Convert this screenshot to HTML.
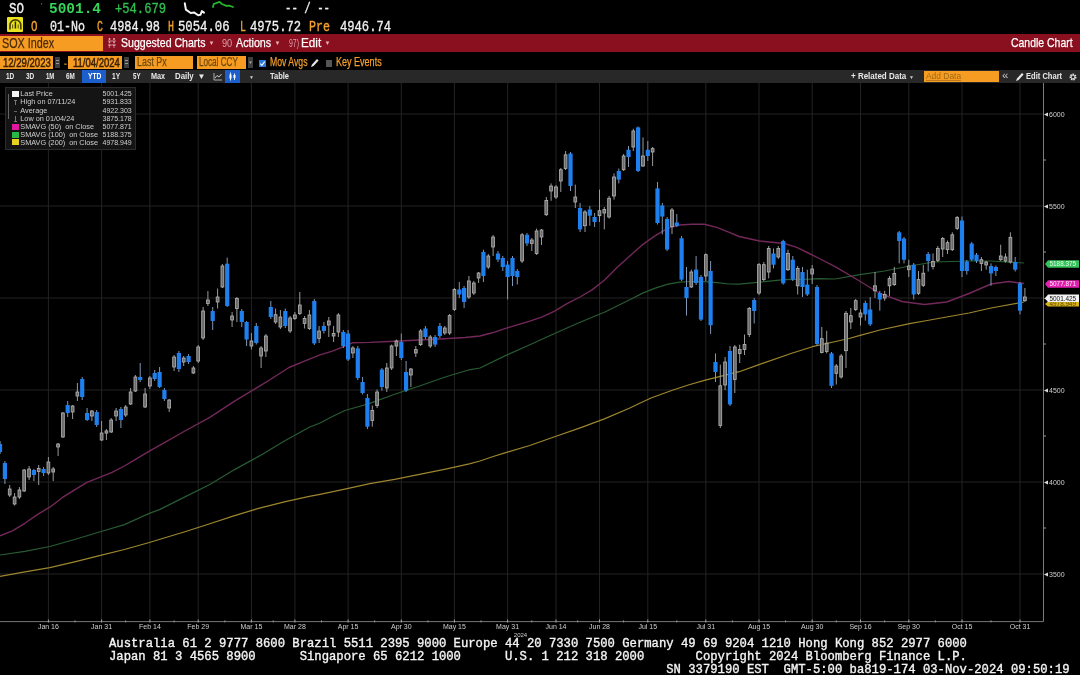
<!DOCTYPE html>
<html><head><meta charset="utf-8"><title>SOX Index Candle Chart</title>
<style>
html,body{margin:0;padding:0;background:#000;}
body{width:1080px;height:675px;overflow:hidden;position:relative;filter:blur(0.35px);font-family:"Liberation Sans",sans-serif;}
.t{position:absolute;white-space:pre;line-height:1;transform-origin:0 50%;}
.bx{position:absolute;}
svg text.ax{font-family:"Liberation Sans",sans-serif;font-size:7px;fill:#cfcfcf;}
svg text.tg{font-family:"Liberation Sans",sans-serif;font-size:6.4px;}
.ft{position:absolute;left:109px;white-space:pre;font-family:"Liberation Mono",monospace;font-size:12.233px;line-height:1;color:#f4f4f4;-webkit-text-stroke:0.35px #f4f4f4;}
.lg{position:absolute;left:4.5px;top:87px;width:131px;height:63px;background:#141414;border:0.5px solid #2c2c2c;box-sizing:border-box;}
.lg div{position:absolute;left:14.8px;right:2.8px;height:8px;font-size:7.3px;line-height:8px;color:#cfcfcf;white-space:pre;}
.lg div b{position:absolute;right:0;font-weight:normal;font-size:7px;}
.lg i{position:absolute;left:6.5px;width:7px;height:6px;}
</style></head><body>
<!-- header row 2 icon -->
<div class="bx" style="left:6.5px;top:17px;width:16.5px;height:14.8px;background:#ece320;border-radius:1px"></div>
<svg class="bx" style="left:6.5px;top:17px" width="17" height="15" viewBox="0 0 17 15"><path d="M3 12.5 V8.2 a5.4 5.4 0 0 1 10.8 0 V12.5" fill="none" stroke="#4a4400" stroke-width="1.7"/><path d="M8.4 4.5 V11.5" stroke="#2a2600" stroke-width="1.5"/><path d="M5.6 7.5 v4 M11.2 7.5 v4" stroke="#6a6200" stroke-width="1.1"/></svg>
<!-- row1 squiggles -->
<svg class="bx" style="left:182px;top:0" width="60" height="18" viewBox="0 0 60 18"><path d="M2.8 3.3 L3.9 9.6 L8.7 13 L12.4 12.6 L16.1 15.2 L18.4 14.8 L19.9 11.1 L22 12.6" fill="none" stroke="#f4f4f4" stroke-width="2" stroke-linejoin="round" stroke-linecap="round"/><path d="M31 7 L31.7 4 L35.4 2.6 L37.6 1.9 L39.9 4 L44.3 5.9 L47.3 5.6 L51 7" fill="none" stroke="#24b52a" stroke-width="1.8" stroke-linejoin="round" stroke-linecap="round"/></svg>
<div class="t" style="left:41px;top:2px;font-size:8px;color:#999">'</div>
<!-- red bar -->
<div class="bx" style="left:0;top:34.4px;width:1080px;height:17.8px;background:#8a1020"></div>
<div class="bx" style="left:0;top:35.8px;width:102.5px;height:14.8px;background:#f69c22"></div>
<svg class="bx" style="left:107px;top:37px" width="10" height="12" viewBox="0 0 10 12"><path d="M2.5 1v10M7 1v10" stroke="#e0a8b0" stroke-width="1.5" stroke-dasharray="2 1.2"/><path d="M1 4h8M1 8h8" stroke="#e0a8b0" stroke-width="0.8"/></svg>
<div class="t" style="left:208.5px;top:40px;font-size:6px;color:#e8b0b8">&#9660;</div>
<div class="t" style="left:274.5px;top:40px;font-size:6px;color:#e8b0b8">&#9660;</div>
<div class="t" style="left:324.5px;top:40px;font-size:6px;color:#e8b0b8">&#9660;</div>
<!-- row4 -->
<div class="bx" style="left:0;top:56px;width:53px;height:12.5px;background:#f69c22"></div>
<div class="bx" style="left:54.8px;top:56.6px;width:5.2px;height:11.2px;background:#3e3e3e"></div><div class="bx" style="left:55.8px;top:60.2px;width:3.2px;height:1.2px;background:#9a9a9a"></div><div class="bx" style="left:55.8px;top:63.2px;width:3.2px;height:1.2px;background:#9a9a9a"></div>
<div class="bx" style="left:68.3px;top:56px;width:53.7px;height:12.5px;background:#f69c22"></div>
<div class="bx" style="left:123.8px;top:56.6px;width:5.2px;height:11.2px;background:#3e3e3e"></div><div class="bx" style="left:124.8px;top:60.2px;width:3.2px;height:1.2px;background:#9a9a9a"></div><div class="bx" style="left:124.8px;top:63.2px;width:3.2px;height:1.2px;background:#9a9a9a"></div>
<div class="bx" style="left:134.5px;top:56px;width:58px;height:12.5px;background:#f69c22"></div>
<div class="bx" style="left:197px;top:56px;width:49px;height:12.5px;background:#f69c22"></div>
<div class="bx" style="left:247.5px;top:56.6px;width:5.8px;height:11.2px;background:#3e3e3e"></div><div class="t" style="left:248.3px;top:60.5px;font-size:4.5px;color:#aaa">&#9660;</div>
<div class="bx" style="left:259px;top:59.5px;width:6.5px;height:7px;background:#2b78e0"></div>
<svg class="bx" style="left:259px;top:59.5px" width="7" height="7" viewBox="0 0 7 7"><path d="M1.3 3.6 l1.6 1.7 l2.8 -3.6" fill="none" stroke="#fff" stroke-width="1.1"/></svg>
<svg class="bx" style="left:309.5px;top:58px" width="9" height="10" viewBox="0 0 9 10"><path d="M1 9 l1 -2.6 l5 -5.4 l1.6 1.6 l-5 5.4 z" fill="#e8e8e8"/></svg>
<div class="bx" style="left:325.5px;top:59.5px;width:6px;height:7px;background:#555"></div>
<!-- toolbar -->
<div class="bx" style="left:0;top:70px;width:1080px;height:12.9px;background:#282828"></div>
<div class="bx" style="left:81.8px;top:70.3px;width:24.6px;height:12.6px;background:#1b5ecc"></div>
<div class="bx" style="left:225px;top:70.3px;width:15px;height:12.6px;background:#1b5ecc"></div>
<div class="t" style="left:197.5px;top:72.5px;font-size:8px;color:#e8e8e8">&#9660;</div>
<svg class="bx" style="left:213px;top:72px" width="10" height="9" viewBox="0 0 10 9"><path d="M1 1v7h8" fill="none" stroke="#bbb" stroke-width="0.9"/><path d="M2 6l2-2.5 2 1.5 2.5-3" fill="none" stroke="#ddd" stroke-width="0.9"/></svg>
<svg class="bx" style="left:227.5px;top:72px" width="10" height="9" viewBox="0 0 10 9"><path d="M2.5 0.5v8M6.5 1.5v6.5" stroke="#fff" stroke-width="0.9"/><rect x="1.5" y="2.5" width="2" height="4" fill="#fff"/><rect x="5.5" y="3" width="2" height="3" fill="#fff"/></svg>
<div class="t" style="left:249px;top:74.5px;font-size:5px;color:#ccc">&#9660;</div>
<div class="t" style="left:909px;top:74.5px;font-size:5px;color:#ccc">&#9660;</div>
<div class="bx" style="left:924px;top:70.5px;width:75px;height:11.5px;background:#f69c22"></div>
<div class="bx" style="left:926px;top:80px;width:35px;height:0.8px;background:#b87a1a"></div>
<div class="t" style="left:1002px;top:70.3px;font-size:11.5px;color:#c8c8c8">&#171;</div>
<svg class="bx" style="left:1015px;top:71.5px" width="9" height="10" viewBox="0 0 9 10"><path d="M1 9 l1 -2.6 l5 -5.4 l1.6 1.6 l-5 5.4 z" fill="#e8e8e8"/></svg>
<svg class="bx" style="left:1068px;top:71.5px" width="10" height="10" viewBox="0 0 10 10"><circle cx="5" cy="5" r="2.6" fill="none" stroke="#e0e0e0" stroke-width="1.8" stroke-dasharray="1.4 0.9"/><circle cx="5" cy="5" r="2" fill="none" stroke="#e0e0e0" stroke-width="1"/></svg>
<div class="t" id="t0" style="left:9.00px;top:2.20px;font-size:15px;font-family:'Liberation Mono', monospace;font-weight:normal;color:#f0f0f0;transform:scaleX(0.8333);-webkit-text-stroke:0.35px #f0f0f0">SO</div>
<div class="t" id="t1" style="left:49.00px;top:2.20px;font-size:15px;font-family:'Liberation Mono', monospace;font-weight:bold;color:#35d45a;transform:scaleX(0.9630)">5001.4</div>
<div class="t" id="t2" style="left:115.00px;top:2.20px;font-size:15px;font-family:'Liberation Mono', monospace;font-weight:normal;color:#2fbf4f;transform:scaleX(0.8095);-webkit-text-stroke:0.35px #2fbf4f">+54.679</div>
<div class="t" id="t3" style="left:285.00px;top:2.20px;font-size:15px;font-family:'Liberation Mono', monospace;font-weight:normal;color:#f0f0f0;transform:scaleX(0.7143);-webkit-text-stroke:0.35px #f0f0f0">-- / --</div>
<div class="t" id="t4" style="left:31.00px;top:19.50px;font-size:15px;font-family:'Liberation Mono', monospace;font-weight:normal;color:#f5a02c;transform:scaleX(0.7222);-webkit-text-stroke:0.35px #f5a02c">O</div>
<div class="t" id="t5" style="left:50.00px;top:19.50px;font-size:15px;font-family:'Liberation Mono', monospace;font-weight:normal;color:#f0f0f0;transform:scaleX(0.7778);-webkit-text-stroke:0.35px #f0f0f0">01-No</div>
<div class="t" id="t6" style="left:97.00px;top:19.50px;font-size:15px;font-family:'Liberation Mono', monospace;font-weight:normal;color:#f5a02c;transform:scaleX(0.6667);-webkit-text-stroke:0.35px #f5a02c">C</div>
<div class="t" id="t7" style="left:110.00px;top:19.50px;font-size:15px;font-family:'Liberation Mono', monospace;font-weight:normal;color:#f0f0f0;transform:scaleX(0.7937);-webkit-text-stroke:0.35px #f0f0f0">4984.98</div>
<div class="t" id="t8" style="left:168.00px;top:19.50px;font-size:15px;font-family:'Liberation Mono', monospace;font-weight:normal;color:#f5a02c;transform:scaleX(0.6667);-webkit-text-stroke:0.35px #f5a02c">H</div>
<div class="t" id="t9" style="left:178.00px;top:19.50px;font-size:15px;font-family:'Liberation Mono', monospace;font-weight:normal;color:#f0f0f0;transform:scaleX(0.8175);-webkit-text-stroke:0.35px #f0f0f0">5054.06</div>
<div class="t" id="t10" style="left:240.00px;top:19.50px;font-size:15px;font-family:'Liberation Mono', monospace;font-weight:normal;color:#f5a02c;transform:scaleX(0.6667);-webkit-text-stroke:0.35px #f5a02c">L</div>
<div class="t" id="t11" style="left:250.00px;top:19.50px;font-size:15px;font-family:'Liberation Mono', monospace;font-weight:normal;color:#f0f0f0;transform:scaleX(0.8095);-webkit-text-stroke:0.35px #f0f0f0">4975.72</div>
<div class="t" id="t12" style="left:309.00px;top:19.50px;font-size:15px;font-family:'Liberation Mono', monospace;font-weight:normal;color:#f5a02c;transform:scaleX(0.7778);-webkit-text-stroke:0.35px #f5a02c">Pre</div>
<div class="t" id="t13" style="left:340.00px;top:19.50px;font-size:15px;font-family:'Liberation Mono', monospace;font-weight:normal;color:#f0f0f0;transform:scaleX(0.8095);-webkit-text-stroke:0.35px #f0f0f0">4946.74</div>
<div class="t" id="t14" style="left:1.50px;top:36.05px;font-size:14.5px;font-family:'Liberation Sans', sans-serif;font-weight:normal;color:#4a2a08;transform:scaleX(0.7429);-webkit-text-stroke:0.25px #4a2a08">SOX Index</div>
<div class="t" id="t15" style="left:120.50px;top:35.85px;font-size:13.5px;font-family:'Liberation Sans', sans-serif;font-weight:normal;color:#fff;transform:scaleX(0.7824);-webkit-text-stroke:0.25px #fff">Suggested Charts</div>
<div class="t" id="t16" style="left:235.50px;top:35.85px;font-size:13.5px;font-family:'Liberation Sans', sans-serif;font-weight:normal;color:#fff;transform:scaleX(0.7955);-webkit-text-stroke:0.25px #fff">Actions</div>
<div class="t" id="t17" style="left:300.50px;top:35.85px;font-size:13.5px;font-family:'Liberation Sans', sans-serif;font-weight:normal;color:#fff;transform:scaleX(0.8696);-webkit-text-stroke:0.25px #fff">Edit</div>
<div class="t" id="t18" style="left:222.00px;top:37.50px;font-size:11px;font-family:'Liberation Sans', sans-serif;font-weight:normal;color:#d9a0a8;transform:scaleX(0.8333)">90</div>
<div class="t" id="t19" style="left:289.00px;top:37.50px;font-size:11px;font-family:'Liberation Sans', sans-serif;font-weight:normal;color:#d9a0a8;transform:scaleX(0.6250)">97)</div>
<div class="t" id="t20" style="left:1011.00px;top:35.85px;font-size:13.5px;font-family:'Liberation Sans', sans-serif;font-weight:normal;color:#fff;transform:scaleX(0.7750);-webkit-text-stroke:0.25px #fff">Candle Chart</div>
<div class="t" id="t21" style="left:3.10px;top:57.25px;font-size:12.5px;font-family:'Liberation Sans', sans-serif;font-weight:normal;color:#3a2000;transform:scaleX(0.7635);-webkit-text-stroke:0.5px #3a2000">12/29/2023</div>
<div class="t" id="t22" style="left:64.30px;top:57.95px;font-size:12.5px;font-family:'Liberation Sans', sans-serif;font-weight:bold;color:#b87a20;transform:scaleX(0.6750)">-</div>
<div class="t" id="t23" style="left:72.70px;top:57.25px;font-size:12.5px;font-family:'Liberation Sans', sans-serif;font-weight:normal;color:#3a2000;transform:scaleX(0.7597);-webkit-text-stroke:0.5px #3a2000">11/04/2024</div>
<div class="t" id="t24" style="left:137.00px;top:56.35px;font-size:12.5px;font-family:'Liberation Sans', sans-serif;font-weight:normal;color:#6e4808;transform:scaleX(0.7143);-webkit-text-stroke:0.25px #6e4808">Last Px</div>
<div class="t" id="t25" style="left:199.00px;top:56.35px;font-size:12.5px;font-family:'Liberation Sans', sans-serif;font-weight:normal;color:#6e4808;transform:scaleX(0.6500);-webkit-text-stroke:0.25px #6e4808">Local CCY</div>
<div class="t" id="t26" style="left:270.00px;top:56.35px;font-size:12.5px;font-family:'Liberation Sans', sans-serif;font-weight:normal;color:#f5a02c;transform:scaleX(0.6944);-webkit-text-stroke:0.25px #f5a02c">Mov Avgs</div>
<div class="t" id="t27" style="left:335.50px;top:56.35px;font-size:12.5px;font-family:'Liberation Sans', sans-serif;font-weight:normal;color:#f5a02c;transform:scaleX(0.7222);-webkit-text-stroke:0.25px #f5a02c">Key Events</div>
<div class="t" id="t28" style="left:5.50px;top:71.35px;font-size:9.9px;font-family:'Liberation Sans', sans-serif;font-weight:bold;color:#e8e8e8;transform:scaleX(0.6538)">1D</div>
<div class="t" id="t29" style="left:25.50px;top:71.35px;font-size:9.9px;font-family:'Liberation Sans', sans-serif;font-weight:bold;color:#e8e8e8;transform:scaleX(0.6538)">3D</div>
<div class="t" id="t30" style="left:46.00px;top:71.35px;font-size:9.9px;font-family:'Liberation Sans', sans-serif;font-weight:bold;color:#e8e8e8;transform:scaleX(0.6071)">1M</div>
<div class="t" id="t31" style="left:66.00px;top:71.35px;font-size:9.9px;font-family:'Liberation Sans', sans-serif;font-weight:bold;color:#e8e8e8;transform:scaleX(0.6429)">6M</div>
<div class="t" id="t32" style="left:87.50px;top:71.35px;font-size:9.9px;font-family:'Liberation Sans', sans-serif;font-weight:bold;color:#fff;transform:scaleX(0.6750)">YTD</div>
<div class="t" id="t33" style="left:112.00px;top:71.35px;font-size:9.9px;font-family:'Liberation Sans', sans-serif;font-weight:bold;color:#e8e8e8;transform:scaleX(0.6667)">1Y</div>
<div class="t" id="t34" style="left:132.50px;top:71.35px;font-size:9.9px;font-family:'Liberation Sans', sans-serif;font-weight:bold;color:#e8e8e8;transform:scaleX(0.6250)">5Y</div>
<div class="t" id="t35" style="left:151.00px;top:71.35px;font-size:9.9px;font-family:'Liberation Sans', sans-serif;font-weight:bold;color:#e8e8e8;transform:scaleX(0.7368)">Max</div>
<div class="t" id="t36" style="left:175.00px;top:71.35px;font-size:9.9px;font-family:'Liberation Sans', sans-serif;font-weight:bold;color:#e8e8e8;transform:scaleX(0.7917)">Daily</div>
<div class="t" id="t37" style="left:270.00px;top:71.35px;font-size:9.9px;font-family:'Liberation Sans', sans-serif;font-weight:bold;color:#e8e8e8;transform:scaleX(0.7600)">Table</div>
<div class="t" id="t38" style="left:851.00px;top:71.35px;font-size:9.9px;font-family:'Liberation Sans', sans-serif;font-weight:bold;color:#e8e8e8;transform:scaleX(0.8088)">+ Related Data</div>
<div class="t" id="t39" style="left:926.00px;top:71.35px;font-size:9.9px;font-family:'Liberation Sans', sans-serif;font-weight:normal;color:#a06a14;transform:scaleX(0.8537)">Add Data</div>
<div class="t" id="t40" style="left:1026.00px;top:71.35px;font-size:9.9px;font-family:'Liberation Sans', sans-serif;font-weight:bold;color:#e8e8e8;transform:scaleX(0.7660)">Edit Chart</div>
<!-- chart -->
<svg class="bx" style="left:0;top:0;filter:blur(0.45px)" width="1080" height="675" viewBox="0 0 1080 675">
<line x1="48.4" y1="83" x2="48.4" y2="620.5" stroke="#232323" stroke-width="1"/>
<line x1="101.6" y1="83" x2="101.6" y2="620.5" stroke="#232323" stroke-width="1"/>
<line x1="149.9" y1="83" x2="149.9" y2="620.5" stroke="#232323" stroke-width="1"/>
<line x1="198.2" y1="83" x2="198.2" y2="620.5" stroke="#232323" stroke-width="1"/>
<line x1="251.4" y1="83" x2="251.4" y2="620.5" stroke="#232323" stroke-width="1"/>
<line x1="294.9" y1="83" x2="294.9" y2="620.5" stroke="#232323" stroke-width="1"/>
<line x1="348.1" y1="83" x2="348.1" y2="620.5" stroke="#232323" stroke-width="1"/>
<line x1="401.3" y1="83" x2="401.3" y2="620.5" stroke="#232323" stroke-width="1"/>
<line x1="454.4" y1="83" x2="454.4" y2="620.5" stroke="#232323" stroke-width="1"/>
<line x1="507.6" y1="83" x2="507.6" y2="620.5" stroke="#232323" stroke-width="1"/>
<line x1="556.0" y1="83" x2="556.0" y2="620.5" stroke="#232323" stroke-width="1"/>
<line x1="599.5" y1="83" x2="599.5" y2="620.5" stroke="#232323" stroke-width="1"/>
<line x1="647.8" y1="83" x2="647.8" y2="620.5" stroke="#232323" stroke-width="1"/>
<line x1="705.8" y1="83" x2="705.8" y2="620.5" stroke="#232323" stroke-width="1"/>
<line x1="759.0" y1="83" x2="759.0" y2="620.5" stroke="#232323" stroke-width="1"/>
<line x1="812.2" y1="83" x2="812.2" y2="620.5" stroke="#232323" stroke-width="1"/>
<line x1="860.5" y1="83" x2="860.5" y2="620.5" stroke="#232323" stroke-width="1"/>
<line x1="908.8" y1="83" x2="908.8" y2="620.5" stroke="#232323" stroke-width="1"/>
<line x1="962.0" y1="83" x2="962.0" y2="620.5" stroke="#232323" stroke-width="1"/>
<line x1="1020.0" y1="83" x2="1020.0" y2="620.5" stroke="#232323" stroke-width="1"/>
<line x1="0" y1="114" x2="1043" y2="114" stroke="#232323" stroke-width="1"/>
<line x1="0" y1="206" x2="1043" y2="206" stroke="#232323" stroke-width="1"/>
<line x1="0" y1="298" x2="1043" y2="298" stroke="#232323" stroke-width="1"/>
<line x1="0" y1="390" x2="1043" y2="390" stroke="#232323" stroke-width="1"/>
<line x1="0" y1="482" x2="1043" y2="482" stroke="#232323" stroke-width="1"/>
<line x1="0" y1="574" x2="1043" y2="574" stroke="#232323" stroke-width="1"/>
<polyline fill="none" stroke="#9c862e" stroke-width="1.2" stroke-opacity="1" stroke-linejoin="round" points="0.0,576.3 24.9,571.8 49.8,567.6 74.6,561.9 99.5,555.7 124.4,549.5 149.3,542.5 160.0,539.3 184.9,531.7 209.8,523.8 234.6,515.6 259.5,508.1 284.4,501.9 309.3,496.4 320.0,494.4 344.9,489.2 369.8,483.7 394.6,479.3 419.5,474.3 444.4,469.3 469.3,463.8 480.0,461.0 492.4,456.7 504.9,452.9 529.8,445.5 554.6,436.8 579.5,428.1 604.4,418.9 629.3,408.2 639.2,403.5 651.0,398.0 673.0,390.0 690.0,384.5 704.4,380.4 729.3,374.2 739.2,371.7 759.0,364.6 791.0,353.5 812.4,346.7 835.6,341.5 849.0,338.5 861.0,335.2 880.0,330.0 909.5,323.6 924.4,321.0 946.7,317.0 969.0,313.0 991.0,308.0 1024.0,302.0"/>
<polyline fill="none" stroke="#285c32" stroke-width="1.2" stroke-opacity="1" stroke-linejoin="round" points="0.0,555.0 24.9,551.4 49.8,546.5 74.6,539.5 99.5,532.0 124.4,524.6 149.3,513.4 160.0,509.4 184.9,496.9 209.8,484.5 234.6,469.6 259.5,455.9 284.4,441.0 309.3,427.3 320.0,423.0 332.4,416.5 344.9,410.5 357.3,407.0 369.8,403.4 394.6,394.2 419.5,386.0 444.4,377.3 469.3,369.8 480.0,368.0 504.9,355.9 529.8,344.7 554.6,333.5 579.5,322.5 604.9,312.0 629.8,299.8 642.2,293.4 654.6,288.4 667.0,284.4 679.5,282.2 692.0,281.5 704.4,281.7 716.8,282.7 729.3,284.0 739.2,284.2 759.5,282.1 784.4,279.6 809.3,279.1 819.2,278.6 835.0,279.0 860.0,274.6 884.6,271.0 909.5,266.0 934.0,262.0 969.0,261.0 991.0,261.0 1024.0,263.0"/>
<polyline fill="none" stroke="#73285a" stroke-width="1.4" stroke-opacity="1" stroke-linejoin="round" points="0.0,535.8 12.4,530.8 24.9,523.3 37.3,514.6 49.8,507.2 62.2,497.7 74.6,489.8 87.0,482.3 99.5,477.3 112.0,472.3 124.4,466.0 136.8,458.7 149.3,451.2 160.0,445.2 184.9,431.0 209.8,417.3 234.6,401.1 259.5,386.2 269.5,380.0 289.0,367.5 305.0,360.8 320.0,354.9 332.4,351.1 344.9,346.2 352.3,342.8 369.8,342.4 394.6,341.2 419.5,340.0 444.4,338.7 465.0,337.5 480.0,336.0 492.4,332.8 504.9,328.6 517.3,324.8 529.8,321.1 542.2,316.9 554.6,311.1 567.0,303.7 580.0,297.0 592.4,289.6 604.9,279.7 617.3,267.2 629.8,256.0 642.2,244.9 654.6,236.1 667.0,228.7 679.5,225.0 692.0,224.3 704.4,224.3 716.8,227.4 729.3,232.4 739.2,236.5 759.5,241.0 784.4,243.5 796.8,247.3 809.3,253.5 819.2,258.5 835.6,266.8 857.8,280.0 880.0,293.5 902.0,301.5 924.4,304.5 946.7,302.0 969.0,293.5 991.0,284.0 1009.0,281.5 1024.0,283.5"/>
<line x1="0.1" y1="441.0" x2="0.1" y2="454.0" stroke="#7f96b4" stroke-width="1"/>
<rect x="-2.1" y="444.0" width="4.2" height="8.0" fill="#1e80ee"/>
<line x1="4.9" y1="461.0" x2="4.9" y2="484.0" stroke="#7f96b4" stroke-width="1"/>
<rect x="2.8" y="463.0" width="4.2" height="16.0" fill="#1e80ee"/>
<line x1="9.7" y1="485.0" x2="9.7" y2="497.0" stroke="#9a9a9a" stroke-width="1"/>
<rect x="8.3" y="489.0" width="2.8" height="6.0" fill="#6a6a6a" stroke="#b4b4b4" stroke-width="0.8"/>
<line x1="14.6" y1="493.0" x2="14.6" y2="505.5" stroke="#9a9a9a" stroke-width="1"/>
<rect x="13.2" y="497.0" width="2.8" height="7.0" fill="#6a6a6a" stroke="#b4b4b4" stroke-width="0.8"/>
<line x1="19.4" y1="487.0" x2="19.4" y2="499.0" stroke="#9a9a9a" stroke-width="1"/>
<rect x="18.0" y="490.0" width="2.8" height="7.0" fill="#6a6a6a" stroke="#b4b4b4" stroke-width="0.8"/>
<line x1="24.2" y1="469.0" x2="24.2" y2="492.0" stroke="#9a9a9a" stroke-width="1"/>
<rect x="22.8" y="470.0" width="2.8" height="21.0" fill="#6a6a6a" stroke="#b4b4b4" stroke-width="0.8"/>
<line x1="29.1" y1="466.0" x2="29.1" y2="480.0" stroke="#9a9a9a" stroke-width="1"/>
<rect x="27.7" y="469.0" width="2.8" height="8.0" fill="#6a6a6a" stroke="#b4b4b4" stroke-width="0.8"/>
<line x1="33.9" y1="469.0" x2="33.9" y2="481.0" stroke="#7f96b4" stroke-width="1"/>
<rect x="31.8" y="470.0" width="4.2" height="5.0" fill="#1e80ee"/>
<line x1="38.7" y1="465.0" x2="38.7" y2="485.0" stroke="#9a9a9a" stroke-width="1"/>
<rect x="37.3" y="468.5" width="2.8" height="3.0" fill="#6a6a6a" stroke="#b4b4b4" stroke-width="0.8"/>
<line x1="43.6" y1="467.0" x2="43.6" y2="476.0" stroke="#7f96b4" stroke-width="1"/>
<rect x="41.5" y="469.0" width="4.2" height="4.0" fill="#1e80ee"/>
<line x1="48.4" y1="457.0" x2="48.4" y2="475.0" stroke="#9a9a9a" stroke-width="1"/>
<rect x="47.0" y="462.0" width="2.8" height="11.0" fill="#6a6a6a" stroke="#b4b4b4" stroke-width="0.8"/>
<line x1="53.2" y1="467.0" x2="53.2" y2="481.0" stroke="#9a9a9a" stroke-width="1"/>
<rect x="51.8" y="469.0" width="2.8" height="3.0" fill="#6a6a6a" stroke="#b4b4b4" stroke-width="0.8"/>
<line x1="58.1" y1="443.0" x2="58.1" y2="456.0" stroke="#9a9a9a" stroke-width="1"/>
<rect x="56.7" y="444.0" width="2.8" height="3.0" fill="#6a6a6a" stroke="#b4b4b4" stroke-width="0.8"/>
<line x1="62.9" y1="412.0" x2="62.9" y2="438.0" stroke="#9a9a9a" stroke-width="1"/>
<rect x="61.5" y="413.0" width="2.8" height="24.0" fill="#6a6a6a" stroke="#b4b4b4" stroke-width="0.8"/>
<line x1="67.7" y1="401.0" x2="67.7" y2="417.0" stroke="#7f96b4" stroke-width="1"/>
<rect x="65.6" y="405.0" width="4.2" height="8.0" fill="#1e80ee"/>
<line x1="72.6" y1="405.0" x2="72.6" y2="419.0" stroke="#9a9a9a" stroke-width="1"/>
<rect x="71.2" y="406.0" width="2.8" height="6.0" fill="#6a6a6a" stroke="#b4b4b4" stroke-width="0.8"/>
<line x1="77.4" y1="383.0" x2="77.4" y2="401.0" stroke="#9a9a9a" stroke-width="1"/>
<rect x="76.0" y="392.0" width="2.8" height="4.0" fill="#6a6a6a" stroke="#b4b4b4" stroke-width="0.8"/>
<line x1="82.2" y1="377.0" x2="82.2" y2="400.0" stroke="#7f96b4" stroke-width="1"/>
<rect x="80.1" y="379.0" width="4.2" height="18.0" fill="#1e80ee"/>
<line x1="87.1" y1="408.0" x2="87.1" y2="421.0" stroke="#7f96b4" stroke-width="1"/>
<rect x="85.0" y="413.0" width="4.2" height="7.0" fill="#1e80ee"/>
<line x1="91.9" y1="410.0" x2="91.9" y2="421.0" stroke="#9a9a9a" stroke-width="1"/>
<rect x="90.5" y="411.0" width="2.8" height="5.0" fill="#6a6a6a" stroke="#b4b4b4" stroke-width="0.8"/>
<line x1="96.7" y1="410.0" x2="96.7" y2="427.0" stroke="#7f96b4" stroke-width="1"/>
<rect x="94.6" y="412.0" width="4.2" height="13.0" fill="#1e80ee"/>
<line x1="101.6" y1="421.0" x2="101.6" y2="441.0" stroke="#9a9a9a" stroke-width="1"/>
<rect x="100.2" y="433.0" width="2.8" height="7.0" fill="#6a6a6a" stroke="#b4b4b4" stroke-width="0.8"/>
<line x1="106.4" y1="429.0" x2="106.4" y2="440.0" stroke="#9a9a9a" stroke-width="1"/>
<rect x="105.0" y="430.9" width="2.8" height="2.2" fill="#6a6a6a" stroke="#b4b4b4" stroke-width="0.8"/>
<line x1="111.2" y1="418.0" x2="111.2" y2="433.0" stroke="#9a9a9a" stroke-width="1"/>
<rect x="109.8" y="420.0" width="2.8" height="12.0" fill="#6a6a6a" stroke="#b4b4b4" stroke-width="0.8"/>
<line x1="116.1" y1="408.0" x2="116.1" y2="421.0" stroke="#9a9a9a" stroke-width="1"/>
<rect x="114.7" y="411.0" width="2.8" height="5.0" fill="#6a6a6a" stroke="#b4b4b4" stroke-width="0.8"/>
<line x1="120.9" y1="407.0" x2="120.9" y2="428.0" stroke="#7f96b4" stroke-width="1"/>
<rect x="118.8" y="409.0" width="4.2" height="11.0" fill="#1e80ee"/>
<line x1="125.7" y1="405.0" x2="125.7" y2="417.0" stroke="#9a9a9a" stroke-width="1"/>
<rect x="124.3" y="407.0" width="2.8" height="8.0" fill="#6a6a6a" stroke="#b4b4b4" stroke-width="0.8"/>
<line x1="130.6" y1="388.0" x2="130.6" y2="405.0" stroke="#9a9a9a" stroke-width="1"/>
<rect x="129.2" y="392.0" width="2.8" height="12.0" fill="#6a6a6a" stroke="#b4b4b4" stroke-width="0.8"/>
<line x1="135.4" y1="375.0" x2="135.4" y2="392.0" stroke="#9a9a9a" stroke-width="1"/>
<rect x="134.0" y="377.0" width="2.8" height="14.0" fill="#6a6a6a" stroke="#b4b4b4" stroke-width="0.8"/>
<line x1="140.2" y1="363.0" x2="140.2" y2="382.0" stroke="#7f96b4" stroke-width="1"/>
<rect x="138.1" y="377.0" width="4.2" height="3.0" fill="#1e80ee"/>
<line x1="145.1" y1="388.0" x2="145.1" y2="408.0" stroke="#9a9a9a" stroke-width="1"/>
<rect x="143.7" y="394.0" width="2.8" height="13.0" fill="#6a6a6a" stroke="#b4b4b4" stroke-width="0.8"/>
<line x1="149.9" y1="376.0" x2="149.9" y2="389.0" stroke="#9a9a9a" stroke-width="1"/>
<rect x="148.5" y="378.0" width="2.8" height="8.0" fill="#6a6a6a" stroke="#b4b4b4" stroke-width="0.8"/>
<line x1="154.7" y1="370.0" x2="154.7" y2="381.0" stroke="#7f96b4" stroke-width="1"/>
<rect x="152.6" y="373.0" width="4.2" height="6.0" fill="#1e80ee"/>
<line x1="159.6" y1="367.0" x2="159.6" y2="388.0" stroke="#7f96b4" stroke-width="1"/>
<rect x="157.5" y="372.0" width="4.2" height="15.0" fill="#1e80ee"/>
<line x1="164.4" y1="388.0" x2="164.4" y2="401.0" stroke="#7f96b4" stroke-width="1"/>
<rect x="162.3" y="390.0" width="4.2" height="9.0" fill="#1e80ee"/>
<line x1="169.2" y1="399.0" x2="169.2" y2="412.0" stroke="#9a9a9a" stroke-width="1"/>
<rect x="167.8" y="400.0" width="2.8" height="8.0" fill="#6a6a6a" stroke="#b4b4b4" stroke-width="0.8"/>
<line x1="174.1" y1="355.0" x2="174.1" y2="371.0" stroke="#9a9a9a" stroke-width="1"/>
<rect x="172.7" y="357.0" width="2.8" height="10.0" fill="#6a6a6a" stroke="#b4b4b4" stroke-width="0.8"/>
<line x1="178.9" y1="351.0" x2="178.9" y2="372.0" stroke="#7f96b4" stroke-width="1"/>
<rect x="176.8" y="353.0" width="4.2" height="16.0" fill="#1e80ee"/>
<line x1="183.7" y1="356.0" x2="183.7" y2="366.0" stroke="#9a9a9a" stroke-width="1"/>
<rect x="182.3" y="358.0" width="2.8" height="4.0" fill="#6a6a6a" stroke="#b4b4b4" stroke-width="0.8"/>
<line x1="188.6" y1="354.0" x2="188.6" y2="364.0" stroke="#7f96b4" stroke-width="1"/>
<rect x="186.5" y="356.0" width="4.2" height="6.0" fill="#1e80ee"/>
<line x1="193.4" y1="366.0" x2="193.4" y2="374.0" stroke="#9a9a9a" stroke-width="1"/>
<rect x="192.0" y="368.0" width="2.8" height="5.0" fill="#6a6a6a" stroke="#b4b4b4" stroke-width="0.8"/>
<line x1="198.2" y1="345.0" x2="198.2" y2="363.0" stroke="#9a9a9a" stroke-width="1"/>
<rect x="196.8" y="347.0" width="2.8" height="14.0" fill="#6a6a6a" stroke="#b4b4b4" stroke-width="0.8"/>
<line x1="203.1" y1="307.0" x2="203.1" y2="340.0" stroke="#9a9a9a" stroke-width="1"/>
<rect x="201.7" y="311.0" width="2.8" height="27.0" fill="#6a6a6a" stroke="#b4b4b4" stroke-width="0.8"/>
<line x1="207.9" y1="291.0" x2="207.9" y2="306.0" stroke="#9a9a9a" stroke-width="1"/>
<rect x="206.5" y="300.0" width="2.8" height="3.5" fill="#6a6a6a" stroke="#b4b4b4" stroke-width="0.8"/>
<line x1="212.7" y1="307.0" x2="212.7" y2="330.0" stroke="#7f96b4" stroke-width="1"/>
<rect x="210.6" y="311.0" width="4.2" height="10.0" fill="#1e80ee"/>
<line x1="217.6" y1="288.5" x2="217.6" y2="308.5" stroke="#9a9a9a" stroke-width="1"/>
<rect x="216.2" y="297.0" width="2.8" height="5.0" fill="#6a6a6a" stroke="#b4b4b4" stroke-width="0.8"/>
<line x1="222.4" y1="264.0" x2="222.4" y2="288.0" stroke="#9a9a9a" stroke-width="1"/>
<rect x="221.0" y="266.0" width="2.8" height="21.0" fill="#6a6a6a" stroke="#b4b4b4" stroke-width="0.8"/>
<line x1="227.2" y1="257.5" x2="227.2" y2="307.0" stroke="#7f96b4" stroke-width="1"/>
<rect x="225.1" y="263.7" width="4.2" height="42.3" fill="#1e80ee"/>
<line x1="232.1" y1="312.0" x2="232.1" y2="327.0" stroke="#9a9a9a" stroke-width="1"/>
<rect x="230.7" y="316.0" width="2.8" height="4.0" fill="#6a6a6a" stroke="#b4b4b4" stroke-width="0.8"/>
<line x1="236.9" y1="297.0" x2="236.9" y2="322.0" stroke="#9a9a9a" stroke-width="1"/>
<rect x="235.5" y="298.5" width="2.8" height="10.0" fill="#6a6a6a" stroke="#b4b4b4" stroke-width="0.8"/>
<line x1="241.8" y1="309.0" x2="241.8" y2="327.0" stroke="#7f96b4" stroke-width="1"/>
<rect x="239.7" y="311.0" width="4.2" height="11.0" fill="#1e80ee"/>
<line x1="246.6" y1="321.0" x2="246.6" y2="346.0" stroke="#7f96b4" stroke-width="1"/>
<rect x="244.5" y="322.0" width="4.2" height="17.5" fill="#1e80ee"/>
<line x1="251.4" y1="333.0" x2="251.4" y2="349.5" stroke="#9a9a9a" stroke-width="1"/>
<rect x="250.0" y="341.0" width="2.8" height="5.0" fill="#6a6a6a" stroke="#b4b4b4" stroke-width="0.8"/>
<line x1="256.3" y1="323.0" x2="256.3" y2="344.5" stroke="#7f96b4" stroke-width="1"/>
<rect x="254.2" y="326.0" width="4.2" height="17.0" fill="#1e80ee"/>
<line x1="261.1" y1="346.0" x2="261.1" y2="368.0" stroke="#9a9a9a" stroke-width="1"/>
<rect x="259.7" y="348.0" width="2.8" height="8.0" fill="#6a6a6a" stroke="#b4b4b4" stroke-width="0.8"/>
<line x1="265.9" y1="334.0" x2="265.9" y2="357.0" stroke="#9a9a9a" stroke-width="1"/>
<rect x="264.5" y="336.0" width="2.8" height="15.0" fill="#6a6a6a" stroke="#b4b4b4" stroke-width="0.8"/>
<line x1="270.8" y1="301.0" x2="270.8" y2="319.0" stroke="#7f96b4" stroke-width="1"/>
<rect x="268.7" y="307.0" width="4.2" height="10.0" fill="#1e80ee"/>
<line x1="275.6" y1="308.5" x2="275.6" y2="324.0" stroke="#9a9a9a" stroke-width="1"/>
<rect x="274.2" y="314.7" width="2.8" height="7.3" fill="#6a6a6a" stroke="#b4b4b4" stroke-width="0.8"/>
<line x1="280.4" y1="310.0" x2="280.4" y2="329.0" stroke="#9a9a9a" stroke-width="1"/>
<rect x="279.0" y="317.0" width="2.8" height="10.0" fill="#6a6a6a" stroke="#b4b4b4" stroke-width="0.8"/>
<line x1="285.3" y1="308.5" x2="285.3" y2="328.0" stroke="#7f96b4" stroke-width="1"/>
<rect x="283.2" y="311.0" width="4.2" height="15.0" fill="#1e80ee"/>
<line x1="290.1" y1="316.0" x2="290.1" y2="333.0" stroke="#9a9a9a" stroke-width="1"/>
<rect x="288.7" y="318.0" width="2.8" height="13.0" fill="#6a6a6a" stroke="#b4b4b4" stroke-width="0.8"/>
<line x1="294.9" y1="312.0" x2="294.9" y2="320.0" stroke="#9a9a9a" stroke-width="1"/>
<rect x="293.5" y="315.0" width="2.8" height="3.5" fill="#6a6a6a" stroke="#b4b4b4" stroke-width="0.8"/>
<line x1="299.8" y1="292.0" x2="299.8" y2="315.0" stroke="#9a9a9a" stroke-width="1"/>
<rect x="298.4" y="305.0" width="2.8" height="8.5" fill="#6a6a6a" stroke="#b4b4b4" stroke-width="0.8"/>
<line x1="304.6" y1="316.0" x2="304.6" y2="328.5" stroke="#9a9a9a" stroke-width="1"/>
<rect x="303.2" y="318.5" width="2.8" height="5.0" fill="#6a6a6a" stroke="#b4b4b4" stroke-width="0.8"/>
<line x1="309.4" y1="310.0" x2="309.4" y2="330.0" stroke="#9a9a9a" stroke-width="1"/>
<rect x="308.0" y="315.0" width="2.8" height="13.5" fill="#6a6a6a" stroke="#b4b4b4" stroke-width="0.8"/>
<line x1="314.3" y1="299.0" x2="314.3" y2="345.0" stroke="#7f96b4" stroke-width="1"/>
<rect x="312.2" y="301.0" width="4.2" height="42.4" fill="#1e80ee"/>
<line x1="319.1" y1="326.0" x2="319.1" y2="343.0" stroke="#9a9a9a" stroke-width="1"/>
<rect x="317.7" y="331.0" width="2.8" height="7.4" fill="#6a6a6a" stroke="#b4b4b4" stroke-width="0.8"/>
<line x1="323.9" y1="322.0" x2="323.9" y2="333.5" stroke="#7f96b4" stroke-width="1"/>
<rect x="321.8" y="326.0" width="4.2" height="5.0" fill="#1e80ee"/>
<line x1="328.8" y1="317.0" x2="328.8" y2="337.0" stroke="#9a9a9a" stroke-width="1"/>
<rect x="327.4" y="321.0" width="2.8" height="4.0" fill="#6a6a6a" stroke="#b4b4b4" stroke-width="0.8"/>
<line x1="333.6" y1="326.0" x2="333.6" y2="342.0" stroke="#9a9a9a" stroke-width="1"/>
<rect x="332.2" y="333.5" width="2.8" height="2.5" fill="#6a6a6a" stroke="#b4b4b4" stroke-width="0.8"/>
<line x1="338.4" y1="313.0" x2="338.4" y2="337.0" stroke="#9a9a9a" stroke-width="1"/>
<rect x="337.0" y="315.0" width="2.8" height="17.0" fill="#6a6a6a" stroke="#b4b4b4" stroke-width="0.8"/>
<line x1="343.3" y1="330.0" x2="343.3" y2="348.0" stroke="#7f96b4" stroke-width="1"/>
<rect x="341.2" y="332.0" width="4.2" height="14.0" fill="#1e80ee"/>
<line x1="348.1" y1="330.0" x2="348.1" y2="361.0" stroke="#7f96b4" stroke-width="1"/>
<rect x="346.0" y="333.5" width="4.2" height="26.0" fill="#1e80ee"/>
<line x1="352.9" y1="346.0" x2="352.9" y2="358.0" stroke="#9a9a9a" stroke-width="1"/>
<rect x="351.5" y="348.0" width="2.8" height="5.0" fill="#6a6a6a" stroke="#b4b4b4" stroke-width="0.8"/>
<line x1="357.8" y1="346.0" x2="357.8" y2="380.0" stroke="#7f96b4" stroke-width="1"/>
<rect x="355.7" y="348.4" width="4.2" height="29.6" fill="#1e80ee"/>
<line x1="362.6" y1="377.0" x2="362.6" y2="394.5" stroke="#7f96b4" stroke-width="1"/>
<rect x="360.5" y="382.0" width="4.2" height="11.0" fill="#1e80ee"/>
<line x1="367.4" y1="394.0" x2="367.4" y2="429.0" stroke="#7f96b4" stroke-width="1"/>
<rect x="365.3" y="398.0" width="4.2" height="28.7" fill="#1e80ee"/>
<line x1="372.3" y1="405.5" x2="372.3" y2="426.7" stroke="#9a9a9a" stroke-width="1"/>
<rect x="370.9" y="410.5" width="2.8" height="10.0" fill="#6a6a6a" stroke="#b4b4b4" stroke-width="0.8"/>
<line x1="377.1" y1="389.5" x2="377.1" y2="408.0" stroke="#9a9a9a" stroke-width="1"/>
<rect x="375.7" y="392.0" width="2.8" height="13.6" fill="#6a6a6a" stroke="#b4b4b4" stroke-width="0.8"/>
<line x1="381.9" y1="368.0" x2="381.9" y2="390.6" stroke="#7f96b4" stroke-width="1"/>
<rect x="379.8" y="369.5" width="4.2" height="17.5" fill="#1e80ee"/>
<line x1="386.8" y1="363.0" x2="386.8" y2="392.0" stroke="#9a9a9a" stroke-width="1"/>
<rect x="385.4" y="368.0" width="2.8" height="20.0" fill="#6a6a6a" stroke="#b4b4b4" stroke-width="0.8"/>
<line x1="391.6" y1="344.6" x2="391.6" y2="370.0" stroke="#9a9a9a" stroke-width="1"/>
<rect x="390.2" y="346.0" width="2.8" height="22.0" fill="#6a6a6a" stroke="#b4b4b4" stroke-width="0.8"/>
<line x1="396.4" y1="339.6" x2="396.4" y2="356.0" stroke="#9a9a9a" stroke-width="1"/>
<rect x="395.0" y="341.0" width="2.8" height="5.0" fill="#6a6a6a" stroke="#b4b4b4" stroke-width="0.8"/>
<line x1="401.3" y1="333.5" x2="401.3" y2="360.0" stroke="#7f96b4" stroke-width="1"/>
<rect x="399.2" y="342.0" width="4.2" height="16.0" fill="#1e80ee"/>
<line x1="406.1" y1="361.0" x2="406.1" y2="392.0" stroke="#7f96b4" stroke-width="1"/>
<rect x="404.0" y="372.0" width="4.2" height="18.6" fill="#1e80ee"/>
<line x1="410.9" y1="368.0" x2="410.9" y2="387.0" stroke="#9a9a9a" stroke-width="1"/>
<rect x="409.5" y="369.0" width="2.8" height="6.0" fill="#6a6a6a" stroke="#b4b4b4" stroke-width="0.8"/>
<line x1="415.8" y1="346.0" x2="415.8" y2="357.0" stroke="#9a9a9a" stroke-width="1"/>
<rect x="414.4" y="349.6" width="2.8" height="3.4" fill="#6a6a6a" stroke="#b4b4b4" stroke-width="0.8"/>
<line x1="420.6" y1="329.0" x2="420.6" y2="346.0" stroke="#9a9a9a" stroke-width="1"/>
<rect x="419.2" y="331.0" width="2.8" height="13.6" fill="#6a6a6a" stroke="#b4b4b4" stroke-width="0.8"/>
<line x1="425.4" y1="326.0" x2="425.4" y2="339.0" stroke="#7f96b4" stroke-width="1"/>
<rect x="423.3" y="328.5" width="4.2" height="8.5" fill="#1e80ee"/>
<line x1="430.3" y1="335.0" x2="430.3" y2="348.0" stroke="#9a9a9a" stroke-width="1"/>
<rect x="428.9" y="337.0" width="2.8" height="9.0" fill="#6a6a6a" stroke="#b4b4b4" stroke-width="0.8"/>
<line x1="435.1" y1="335.0" x2="435.1" y2="347.0" stroke="#7f96b4" stroke-width="1"/>
<rect x="433.0" y="337.0" width="4.2" height="7.6" fill="#1e80ee"/>
<line x1="439.9" y1="323.0" x2="439.9" y2="338.0" stroke="#7f96b4" stroke-width="1"/>
<rect x="437.8" y="326.0" width="4.2" height="10.0" fill="#1e80ee"/>
<line x1="444.8" y1="326.0" x2="444.8" y2="335.0" stroke="#9a9a9a" stroke-width="1"/>
<rect x="443.4" y="328.0" width="2.8" height="5.0" fill="#6a6a6a" stroke="#b4b4b4" stroke-width="0.8"/>
<line x1="449.6" y1="314.0" x2="449.6" y2="335.0" stroke="#9a9a9a" stroke-width="1"/>
<rect x="448.2" y="315.6" width="2.8" height="17.4" fill="#6a6a6a" stroke="#b4b4b4" stroke-width="0.8"/>
<line x1="454.4" y1="288.0" x2="454.4" y2="311.0" stroke="#9a9a9a" stroke-width="1"/>
<rect x="453.0" y="289.5" width="2.8" height="19.9" fill="#6a6a6a" stroke="#b4b4b4" stroke-width="0.8"/>
<line x1="459.3" y1="282.0" x2="459.3" y2="298.0" stroke="#7f96b4" stroke-width="1"/>
<rect x="457.2" y="289.5" width="4.2" height="5.0" fill="#1e80ee"/>
<line x1="464.1" y1="286.0" x2="464.1" y2="308.0" stroke="#7f96b4" stroke-width="1"/>
<rect x="462.0" y="288.0" width="4.2" height="14.0" fill="#1e80ee"/>
<line x1="468.9" y1="276.0" x2="468.9" y2="299.0" stroke="#9a9a9a" stroke-width="1"/>
<rect x="467.5" y="281.0" width="2.8" height="16.0" fill="#6a6a6a" stroke="#b4b4b4" stroke-width="0.8"/>
<line x1="473.8" y1="281.0" x2="473.8" y2="295.0" stroke="#9a9a9a" stroke-width="1"/>
<rect x="472.4" y="283.0" width="2.8" height="10.0" fill="#6a6a6a" stroke="#b4b4b4" stroke-width="0.8"/>
<line x1="478.6" y1="272.0" x2="478.6" y2="283.0" stroke="#9a9a9a" stroke-width="1"/>
<rect x="477.2" y="273.0" width="2.8" height="5.0" fill="#6a6a6a" stroke="#b4b4b4" stroke-width="0.8"/>
<line x1="483.4" y1="249.7" x2="483.4" y2="282.0" stroke="#7f96b4" stroke-width="1"/>
<rect x="481.3" y="252.0" width="4.2" height="24.0" fill="#1e80ee"/>
<line x1="488.3" y1="254.0" x2="488.3" y2="269.0" stroke="#9a9a9a" stroke-width="1"/>
<rect x="486.9" y="256.0" width="2.8" height="11.0" fill="#6a6a6a" stroke="#b4b4b4" stroke-width="0.8"/>
<line x1="493.1" y1="235.0" x2="493.1" y2="256.0" stroke="#9a9a9a" stroke-width="1"/>
<rect x="491.7" y="237.0" width="2.8" height="10.0" fill="#6a6a6a" stroke="#b4b4b4" stroke-width="0.8"/>
<line x1="498.0" y1="251.0" x2="498.0" y2="262.0" stroke="#7f96b4" stroke-width="1"/>
<rect x="495.9" y="253.5" width="4.2" height="6.1" fill="#1e80ee"/>
<line x1="502.8" y1="256.0" x2="502.8" y2="271.0" stroke="#7f96b4" stroke-width="1"/>
<rect x="500.7" y="258.0" width="4.2" height="9.0" fill="#1e80ee"/>
<line x1="507.6" y1="261.0" x2="507.6" y2="299.5" stroke="#7f96b4" stroke-width="1"/>
<rect x="505.5" y="264.6" width="4.2" height="12.4" fill="#1e80ee"/>
<line x1="512.5" y1="256.0" x2="512.5" y2="286.0" stroke="#7f96b4" stroke-width="1"/>
<rect x="510.4" y="258.0" width="4.2" height="18.0" fill="#1e80ee"/>
<line x1="517.3" y1="269.0" x2="517.3" y2="284.5" stroke="#7f96b4" stroke-width="1"/>
<rect x="515.2" y="271.0" width="4.2" height="6.0" fill="#1e80ee"/>
<line x1="522.1" y1="233.0" x2="522.1" y2="263.0" stroke="#9a9a9a" stroke-width="1"/>
<rect x="520.7" y="234.8" width="2.8" height="26.2" fill="#6a6a6a" stroke="#b4b4b4" stroke-width="0.8"/>
<line x1="527.0" y1="233.0" x2="527.0" y2="246.0" stroke="#7f96b4" stroke-width="1"/>
<rect x="524.9" y="234.8" width="4.2" height="8.7" fill="#1e80ee"/>
<line x1="531.8" y1="238.0" x2="531.8" y2="251.0" stroke="#9a9a9a" stroke-width="1"/>
<rect x="530.4" y="240.0" width="2.8" height="3.5" fill="#6a6a6a" stroke="#b4b4b4" stroke-width="0.8"/>
<line x1="536.6" y1="228.6" x2="536.6" y2="255.0" stroke="#9a9a9a" stroke-width="1"/>
<rect x="535.2" y="231.0" width="2.8" height="22.4" fill="#6a6a6a" stroke="#b4b4b4" stroke-width="0.8"/>
<line x1="541.5" y1="229.0" x2="541.5" y2="245.0" stroke="#9a9a9a" stroke-width="1"/>
<rect x="540.1" y="230.0" width="2.8" height="7.0" fill="#6a6a6a" stroke="#b4b4b4" stroke-width="0.8"/>
<line x1="546.3" y1="197.0" x2="546.3" y2="216.0" stroke="#9a9a9a" stroke-width="1"/>
<rect x="544.9" y="200.5" width="2.8" height="14.2" fill="#6a6a6a" stroke="#b4b4b4" stroke-width="0.8"/>
<line x1="551.1" y1="183.4" x2="551.1" y2="200.8" stroke="#9a9a9a" stroke-width="1"/>
<rect x="549.7" y="186.0" width="2.8" height="5.0" fill="#6a6a6a" stroke="#b4b4b4" stroke-width="0.8"/>
<line x1="556.0" y1="185.0" x2="556.0" y2="199.0" stroke="#9a9a9a" stroke-width="1"/>
<rect x="554.6" y="187.0" width="2.8" height="10.0" fill="#6a6a6a" stroke="#b4b4b4" stroke-width="0.8"/>
<line x1="560.8" y1="168.0" x2="560.8" y2="192.0" stroke="#9a9a9a" stroke-width="1"/>
<rect x="559.4" y="169.7" width="2.8" height="11.3" fill="#6a6a6a" stroke="#b4b4b4" stroke-width="0.8"/>
<line x1="565.6" y1="151.0" x2="565.6" y2="170.0" stroke="#9a9a9a" stroke-width="1"/>
<rect x="564.2" y="154.8" width="2.8" height="13.7" fill="#6a6a6a" stroke="#b4b4b4" stroke-width="0.8"/>
<line x1="570.5" y1="152.0" x2="570.5" y2="191.0" stroke="#7f96b4" stroke-width="1"/>
<rect x="568.4" y="153.5" width="4.2" height="32.5" fill="#1e80ee"/>
<line x1="575.3" y1="184.6" x2="575.3" y2="208.0" stroke="#9a9a9a" stroke-width="1"/>
<rect x="573.9" y="197.0" width="2.8" height="5.0" fill="#6a6a6a" stroke="#b4b4b4" stroke-width="0.8"/>
<line x1="580.1" y1="203.0" x2="580.1" y2="232.0" stroke="#7f96b4" stroke-width="1"/>
<rect x="578.0" y="208.0" width="4.2" height="21.4" fill="#1e80ee"/>
<line x1="585.0" y1="210.0" x2="585.0" y2="232.0" stroke="#9a9a9a" stroke-width="1"/>
<rect x="583.6" y="212.0" width="2.8" height="13.7" fill="#6a6a6a" stroke="#b4b4b4" stroke-width="0.8"/>
<line x1="589.8" y1="206.0" x2="589.8" y2="225.7" stroke="#7f96b4" stroke-width="1"/>
<rect x="587.7" y="209.5" width="4.2" height="6.2" fill="#1e80ee"/>
<line x1="594.6" y1="213.0" x2="594.6" y2="227.0" stroke="#7f96b4" stroke-width="1"/>
<rect x="592.5" y="217.0" width="4.2" height="5.0" fill="#1e80ee"/>
<line x1="599.5" y1="189.6" x2="599.5" y2="222.0" stroke="#9a9a9a" stroke-width="1"/>
<rect x="598.1" y="210.7" width="2.8" height="5.0" fill="#6a6a6a" stroke="#b4b4b4" stroke-width="0.8"/>
<line x1="604.3" y1="207.0" x2="604.3" y2="229.4" stroke="#9a9a9a" stroke-width="1"/>
<rect x="602.9" y="209.5" width="2.8" height="3.5" fill="#6a6a6a" stroke="#b4b4b4" stroke-width="0.8"/>
<line x1="609.1" y1="196.0" x2="609.1" y2="218.5" stroke="#9a9a9a" stroke-width="1"/>
<rect x="607.7" y="198.3" width="2.8" height="18.7" fill="#6a6a6a" stroke="#b4b4b4" stroke-width="0.8"/>
<line x1="614.0" y1="173.4" x2="614.0" y2="199.6" stroke="#9a9a9a" stroke-width="1"/>
<rect x="612.6" y="177.0" width="2.8" height="19.0" fill="#6a6a6a" stroke="#b4b4b4" stroke-width="0.8"/>
<line x1="618.8" y1="168.5" x2="618.8" y2="183.4" stroke="#7f96b4" stroke-width="1"/>
<rect x="616.7" y="171.0" width="4.2" height="8.6" fill="#1e80ee"/>
<line x1="623.6" y1="154.0" x2="623.6" y2="171.0" stroke="#9a9a9a" stroke-width="1"/>
<rect x="622.2" y="156.0" width="2.8" height="13.7" fill="#6a6a6a" stroke="#b4b4b4" stroke-width="0.8"/>
<line x1="628.5" y1="146.0" x2="628.5" y2="167.0" stroke="#7f96b4" stroke-width="1"/>
<rect x="626.4" y="149.8" width="4.2" height="7.2" fill="#1e80ee"/>
<line x1="633.3" y1="128.7" x2="633.3" y2="151.0" stroke="#9a9a9a" stroke-width="1"/>
<rect x="631.9" y="131.0" width="2.8" height="16.0" fill="#6a6a6a" stroke="#b4b4b4" stroke-width="0.8"/>
<line x1="638.1" y1="126.5" x2="638.1" y2="172.0" stroke="#7f96b4" stroke-width="1"/>
<rect x="636.0" y="127.4" width="4.2" height="43.6" fill="#1e80ee"/>
<line x1="643.0" y1="137.4" x2="643.0" y2="167.0" stroke="#9a9a9a" stroke-width="1"/>
<rect x="641.6" y="156.0" width="2.8" height="10.0" fill="#6a6a6a" stroke="#b4b4b4" stroke-width="0.8"/>
<line x1="647.8" y1="141.0" x2="647.8" y2="161.0" stroke="#7f96b4" stroke-width="1"/>
<rect x="645.7" y="149.8" width="4.2" height="6.2" fill="#1e80ee"/>
<line x1="652.6" y1="147.0" x2="652.6" y2="166.0" stroke="#9a9a9a" stroke-width="1"/>
<rect x="651.2" y="148.6" width="2.8" height="3.4" fill="#6a6a6a" stroke="#b4b4b4" stroke-width="0.8"/>
<line x1="657.5" y1="182.0" x2="657.5" y2="224.5" stroke="#7f96b4" stroke-width="1"/>
<rect x="655.4" y="188.4" width="4.2" height="34.6" fill="#1e80ee"/>
<line x1="662.3" y1="203.0" x2="662.3" y2="234.4" stroke="#7f96b4" stroke-width="1"/>
<rect x="660.2" y="205.5" width="4.2" height="11.0" fill="#1e80ee"/>
<line x1="667.1" y1="217.0" x2="667.1" y2="251.0" stroke="#7f96b4" stroke-width="1"/>
<rect x="665.0" y="219.0" width="4.2" height="30.5" fill="#1e80ee"/>
<line x1="672.0" y1="208.0" x2="672.0" y2="234.0" stroke="#9a9a9a" stroke-width="1"/>
<rect x="670.6" y="210.0" width="2.8" height="16.5" fill="#6a6a6a" stroke="#b4b4b4" stroke-width="0.8"/>
<line x1="676.8" y1="214.0" x2="676.8" y2="227.0" stroke="#7f96b4" stroke-width="1"/>
<rect x="674.7" y="222.5" width="4.2" height="3.5" fill="#1e80ee"/>
<line x1="681.6" y1="236.0" x2="681.6" y2="281.0" stroke="#7f96b4" stroke-width="1"/>
<rect x="679.5" y="238.3" width="4.2" height="41.3" fill="#1e80ee"/>
<line x1="686.5" y1="267.0" x2="686.5" y2="315.6" stroke="#7f96b4" stroke-width="1"/>
<rect x="684.4" y="287.0" width="4.2" height="11.0" fill="#1e80ee"/>
<line x1="691.3" y1="269.6" x2="691.3" y2="288.0" stroke="#9a9a9a" stroke-width="1"/>
<rect x="689.9" y="272.0" width="2.8" height="15.0" fill="#6a6a6a" stroke="#b4b4b4" stroke-width="0.8"/>
<line x1="696.1" y1="256.0" x2="696.1" y2="285.0" stroke="#7f96b4" stroke-width="1"/>
<rect x="694.0" y="269.6" width="4.2" height="13.4" fill="#1e80ee"/>
<line x1="701.0" y1="275.0" x2="701.0" y2="321.0" stroke="#7f96b4" stroke-width="1"/>
<rect x="698.9" y="277.0" width="4.2" height="42.6" fill="#1e80ee"/>
<line x1="705.8" y1="253.4" x2="705.8" y2="281.0" stroke="#9a9a9a" stroke-width="1"/>
<rect x="704.4" y="254.7" width="2.8" height="21.3" fill="#6a6a6a" stroke="#b4b4b4" stroke-width="0.8"/>
<line x1="710.6" y1="261.0" x2="710.6" y2="334.0" stroke="#7f96b4" stroke-width="1"/>
<rect x="708.5" y="271.0" width="4.2" height="54.2" fill="#1e80ee"/>
<line x1="715.5" y1="353.4" x2="715.5" y2="382.0" stroke="#7f96b4" stroke-width="1"/>
<rect x="713.4" y="362.0" width="4.2" height="10.0" fill="#1e80ee"/>
<line x1="720.3" y1="364.6" x2="720.3" y2="428.0" stroke="#9a9a9a" stroke-width="1"/>
<rect x="718.9" y="385.8" width="2.8" height="39.8" fill="#6a6a6a" stroke="#b4b4b4" stroke-width="0.8"/>
<line x1="725.1" y1="357.0" x2="725.1" y2="390.0" stroke="#9a9a9a" stroke-width="1"/>
<rect x="723.7" y="362.0" width="2.8" height="23.0" fill="#6a6a6a" stroke="#b4b4b4" stroke-width="0.8"/>
<line x1="730.0" y1="346.0" x2="730.0" y2="406.0" stroke="#7f96b4" stroke-width="1"/>
<rect x="727.9" y="351.0" width="4.2" height="53.4" fill="#1e80ee"/>
<line x1="734.8" y1="345.0" x2="734.8" y2="393.0" stroke="#9a9a9a" stroke-width="1"/>
<rect x="733.4" y="347.0" width="2.8" height="32.5" fill="#6a6a6a" stroke="#b4b4b4" stroke-width="0.8"/>
<line x1="739.7" y1="344.7" x2="739.7" y2="363.0" stroke="#9a9a9a" stroke-width="1"/>
<rect x="738.3" y="349.5" width="2.8" height="3.9" fill="#6a6a6a" stroke="#b4b4b4" stroke-width="0.8"/>
<line x1="744.5" y1="334.5" x2="744.5" y2="355.0" stroke="#9a9a9a" stroke-width="1"/>
<rect x="743.1" y="344.5" width="2.8" height="5.0" fill="#6a6a6a" stroke="#b4b4b4" stroke-width="0.8"/>
<line x1="749.3" y1="307.0" x2="749.3" y2="337.0" stroke="#9a9a9a" stroke-width="1"/>
<rect x="747.9" y="308.4" width="2.8" height="26.1" fill="#6a6a6a" stroke="#b4b4b4" stroke-width="0.8"/>
<line x1="754.2" y1="298.0" x2="754.2" y2="323.5" stroke="#7f96b4" stroke-width="1"/>
<rect x="752.1" y="300.0" width="4.2" height="11.0" fill="#1e80ee"/>
<line x1="759.0" y1="263.0" x2="759.0" y2="295.0" stroke="#9a9a9a" stroke-width="1"/>
<rect x="757.6" y="264.7" width="2.8" height="28.3" fill="#6a6a6a" stroke="#b4b4b4" stroke-width="0.8"/>
<line x1="763.8" y1="262.0" x2="763.8" y2="281.0" stroke="#9a9a9a" stroke-width="1"/>
<rect x="762.4" y="264.7" width="2.8" height="14.9" fill="#6a6a6a" stroke="#b4b4b4" stroke-width="0.8"/>
<line x1="768.7" y1="246.0" x2="768.7" y2="278.4" stroke="#9a9a9a" stroke-width="1"/>
<rect x="767.3" y="248.5" width="2.8" height="23.5" fill="#6a6a6a" stroke="#b4b4b4" stroke-width="0.8"/>
<line x1="773.5" y1="248.5" x2="773.5" y2="268.4" stroke="#7f96b4" stroke-width="1"/>
<rect x="771.4" y="253.5" width="4.2" height="11.2" fill="#1e80ee"/>
<line x1="778.3" y1="246.0" x2="778.3" y2="259.0" stroke="#9a9a9a" stroke-width="1"/>
<rect x="776.9" y="248.5" width="2.8" height="8.5" fill="#6a6a6a" stroke="#b4b4b4" stroke-width="0.8"/>
<line x1="783.2" y1="239.8" x2="783.2" y2="284.6" stroke="#7f96b4" stroke-width="1"/>
<rect x="781.1" y="241.0" width="4.2" height="42.3" fill="#1e80ee"/>
<line x1="788.0" y1="249.7" x2="788.0" y2="271.0" stroke="#9a9a9a" stroke-width="1"/>
<rect x="786.6" y="253.5" width="2.8" height="16.2" fill="#6a6a6a" stroke="#b4b4b4" stroke-width="0.8"/>
<line x1="792.8" y1="256.0" x2="792.8" y2="281.0" stroke="#7f96b4" stroke-width="1"/>
<rect x="790.7" y="259.7" width="4.2" height="19.9" fill="#1e80ee"/>
<line x1="797.7" y1="266.0" x2="797.7" y2="294.5" stroke="#9a9a9a" stroke-width="1"/>
<rect x="796.3" y="268.4" width="2.8" height="17.4" fill="#6a6a6a" stroke="#b4b4b4" stroke-width="0.8"/>
<line x1="802.5" y1="267.0" x2="802.5" y2="297.0" stroke="#7f96b4" stroke-width="1"/>
<rect x="800.4" y="272.0" width="4.2" height="15.0" fill="#1e80ee"/>
<line x1="807.3" y1="269.7" x2="807.3" y2="296.0" stroke="#7f96b4" stroke-width="1"/>
<rect x="805.2" y="284.6" width="4.2" height="9.9" fill="#1e80ee"/>
<line x1="812.2" y1="265.0" x2="812.2" y2="284.0" stroke="#9a9a9a" stroke-width="1"/>
<rect x="810.8" y="269.0" width="2.8" height="5.0" fill="#6a6a6a" stroke="#b4b4b4" stroke-width="0.8"/>
<line x1="817.0" y1="285.0" x2="817.0" y2="345.5" stroke="#7f96b4" stroke-width="1"/>
<rect x="814.9" y="287.0" width="4.2" height="57.0" fill="#1e80ee"/>
<line x1="821.8" y1="327.0" x2="821.8" y2="353.4" stroke="#9a9a9a" stroke-width="1"/>
<rect x="820.4" y="338.7" width="2.8" height="13.8" fill="#6a6a6a" stroke="#b4b4b4" stroke-width="0.8"/>
<line x1="826.7" y1="330.8" x2="826.7" y2="353.4" stroke="#9a9a9a" stroke-width="1"/>
<rect x="825.3" y="343.2" width="2.8" height="8.2" fill="#6a6a6a" stroke="#b4b4b4" stroke-width="0.8"/>
<line x1="831.5" y1="352.0" x2="831.5" y2="388.0" stroke="#7f96b4" stroke-width="1"/>
<rect x="829.4" y="353.4" width="4.2" height="32.4" fill="#1e80ee"/>
<line x1="836.3" y1="364.0" x2="836.3" y2="384.5" stroke="#9a9a9a" stroke-width="1"/>
<rect x="834.9" y="366.0" width="2.8" height="7.3" fill="#6a6a6a" stroke="#b4b4b4" stroke-width="0.8"/>
<line x1="841.2" y1="354.0" x2="841.2" y2="378.5" stroke="#9a9a9a" stroke-width="1"/>
<rect x="839.8" y="356.0" width="2.8" height="21.0" fill="#6a6a6a" stroke="#b4b4b4" stroke-width="0.8"/>
<line x1="846.0" y1="311.0" x2="846.0" y2="368.0" stroke="#9a9a9a" stroke-width="1"/>
<rect x="844.6" y="313.3" width="2.8" height="37.4" fill="#6a6a6a" stroke="#b4b4b4" stroke-width="0.8"/>
<line x1="850.8" y1="308.0" x2="850.8" y2="329.0" stroke="#9a9a9a" stroke-width="1"/>
<rect x="849.4" y="315.7" width="2.8" height="6.3" fill="#6a6a6a" stroke="#b4b4b4" stroke-width="0.8"/>
<line x1="855.7" y1="299.0" x2="855.7" y2="311.0" stroke="#9a9a9a" stroke-width="1"/>
<rect x="854.3" y="300.7" width="2.8" height="8.8" fill="#6a6a6a" stroke="#b4b4b4" stroke-width="0.8"/>
<line x1="860.5" y1="309.5" x2="860.5" y2="325.6" stroke="#9a9a9a" stroke-width="1"/>
<rect x="859.1" y="313.0" width="2.8" height="4.0" fill="#6a6a6a" stroke="#b4b4b4" stroke-width="0.8"/>
<line x1="865.3" y1="300.7" x2="865.3" y2="320.6" stroke="#7f96b4" stroke-width="1"/>
<rect x="863.2" y="303.0" width="4.2" height="11.4" fill="#1e80ee"/>
<line x1="870.2" y1="297.0" x2="870.2" y2="326.0" stroke="#7f96b4" stroke-width="1"/>
<rect x="868.1" y="309.5" width="4.2" height="14.9" fill="#1e80ee"/>
<line x1="875.0" y1="272.0" x2="875.0" y2="298.0" stroke="#9a9a9a" stroke-width="1"/>
<rect x="873.6" y="285.8" width="2.8" height="5.0" fill="#6a6a6a" stroke="#b4b4b4" stroke-width="0.8"/>
<line x1="879.8" y1="290.8" x2="879.8" y2="310.7" stroke="#7f96b4" stroke-width="1"/>
<rect x="877.7" y="293.0" width="4.2" height="6.5" fill="#1e80ee"/>
<line x1="884.7" y1="290.8" x2="884.7" y2="300.7" stroke="#9a9a9a" stroke-width="1"/>
<rect x="883.3" y="294.5" width="2.8" height="3.5" fill="#6a6a6a" stroke="#b4b4b4" stroke-width="0.8"/>
<line x1="889.5" y1="276.0" x2="889.5" y2="295.8" stroke="#9a9a9a" stroke-width="1"/>
<rect x="888.1" y="278.4" width="2.8" height="7.4" fill="#6a6a6a" stroke="#b4b4b4" stroke-width="0.8"/>
<line x1="894.3" y1="267.0" x2="894.3" y2="286.0" stroke="#9a9a9a" stroke-width="1"/>
<rect x="892.9" y="273.4" width="2.8" height="11.2" fill="#6a6a6a" stroke="#b4b4b4" stroke-width="0.8"/>
<line x1="899.2" y1="231.0" x2="899.2" y2="263.4" stroke="#7f96b4" stroke-width="1"/>
<rect x="897.1" y="232.3" width="4.2" height="8.7" fill="#1e80ee"/>
<line x1="904.0" y1="237.0" x2="904.0" y2="263.4" stroke="#7f96b4" stroke-width="1"/>
<rect x="901.9" y="238.6" width="4.2" height="21.1" fill="#1e80ee"/>
<line x1="908.8" y1="259.7" x2="908.8" y2="277.0" stroke="#9a9a9a" stroke-width="1"/>
<rect x="907.4" y="266.0" width="2.8" height="3.7" fill="#6a6a6a" stroke="#b4b4b4" stroke-width="0.8"/>
<line x1="913.7" y1="263.0" x2="913.7" y2="299.5" stroke="#7f96b4" stroke-width="1"/>
<rect x="911.6" y="264.7" width="4.2" height="29.8" fill="#1e80ee"/>
<line x1="918.5" y1="271.0" x2="918.5" y2="295.0" stroke="#9a9a9a" stroke-width="1"/>
<rect x="917.1" y="279.6" width="2.8" height="13.7" fill="#6a6a6a" stroke="#b4b4b4" stroke-width="0.8"/>
<line x1="923.3" y1="264.8" x2="923.3" y2="287.0" stroke="#9a9a9a" stroke-width="1"/>
<rect x="921.9" y="273.2" width="2.8" height="12.1" fill="#6a6a6a" stroke="#b4b4b4" stroke-width="0.8"/>
<line x1="928.2" y1="252.0" x2="928.2" y2="271.5" stroke="#7f96b4" stroke-width="1"/>
<rect x="926.1" y="254.0" width="4.2" height="7.0" fill="#1e80ee"/>
<line x1="933.0" y1="253.5" x2="933.0" y2="269.5" stroke="#9a9a9a" stroke-width="1"/>
<rect x="931.6" y="261.5" width="2.8" height="5.0" fill="#6a6a6a" stroke="#b4b4b4" stroke-width="0.8"/>
<line x1="937.8" y1="246.0" x2="937.8" y2="262.0" stroke="#9a9a9a" stroke-width="1"/>
<rect x="936.4" y="248.5" width="2.8" height="11.8" fill="#6a6a6a" stroke="#b4b4b4" stroke-width="0.8"/>
<line x1="942.7" y1="237.0" x2="942.7" y2="257.0" stroke="#9a9a9a" stroke-width="1"/>
<rect x="941.3" y="238.5" width="2.8" height="10.5" fill="#6a6a6a" stroke="#b4b4b4" stroke-width="0.8"/>
<line x1="947.5" y1="240.5" x2="947.5" y2="254.0" stroke="#9a9a9a" stroke-width="1"/>
<rect x="946.1" y="242.7" width="2.8" height="7.0" fill="#6a6a6a" stroke="#b4b4b4" stroke-width="0.8"/>
<line x1="952.3" y1="232.3" x2="952.3" y2="251.0" stroke="#9a9a9a" stroke-width="1"/>
<rect x="950.9" y="234.8" width="2.8" height="14.9" fill="#6a6a6a" stroke="#b4b4b4" stroke-width="0.8"/>
<line x1="957.2" y1="216.0" x2="957.2" y2="230.0" stroke="#9a9a9a" stroke-width="1"/>
<rect x="955.8" y="217.4" width="2.8" height="11.2" fill="#6a6a6a" stroke="#b4b4b4" stroke-width="0.8"/>
<line x1="962.0" y1="216.5" x2="962.0" y2="277.0" stroke="#7f96b4" stroke-width="1"/>
<rect x="959.9" y="220.5" width="4.2" height="50.5" fill="#1e80ee"/>
<line x1="966.8" y1="260.0" x2="966.8" y2="274.6" stroke="#7f96b4" stroke-width="1"/>
<rect x="964.7" y="261.5" width="4.2" height="9.5" fill="#1e80ee"/>
<line x1="971.7" y1="242.0" x2="971.7" y2="261.0" stroke="#7f96b4" stroke-width="1"/>
<rect x="969.6" y="243.5" width="4.2" height="16.2" fill="#1e80ee"/>
<line x1="976.5" y1="253.0" x2="976.5" y2="263.0" stroke="#7f96b4" stroke-width="1"/>
<rect x="974.4" y="254.7" width="4.2" height="6.3" fill="#1e80ee"/>
<line x1="981.4" y1="257.0" x2="981.4" y2="271.0" stroke="#9a9a9a" stroke-width="1"/>
<rect x="980.0" y="259.7" width="2.8" height="3.7" fill="#6a6a6a" stroke="#b4b4b4" stroke-width="0.8"/>
<line x1="986.2" y1="261.0" x2="986.2" y2="269.7" stroke="#9a9a9a" stroke-width="1"/>
<rect x="984.8" y="262.0" width="2.8" height="3.0" fill="#6a6a6a" stroke="#b4b4b4" stroke-width="0.8"/>
<line x1="991.0" y1="263.4" x2="991.0" y2="285.8" stroke="#7f96b4" stroke-width="1"/>
<rect x="988.9" y="266.0" width="4.2" height="7.4" fill="#1e80ee"/>
<line x1="995.9" y1="265.5" x2="995.9" y2="276.0" stroke="#7f96b4" stroke-width="1"/>
<rect x="993.8" y="267.0" width="4.2" height="4.0" fill="#1e80ee"/>
<line x1="1000.7" y1="244.7" x2="1000.7" y2="261.0" stroke="#9a9a9a" stroke-width="1"/>
<rect x="999.3" y="256.0" width="2.8" height="3.7" fill="#6a6a6a" stroke="#b4b4b4" stroke-width="0.8"/>
<line x1="1005.5" y1="253.4" x2="1005.5" y2="262.5" stroke="#9a9a9a" stroke-width="1"/>
<rect x="1004.1" y="257.0" width="2.8" height="4.0" fill="#6a6a6a" stroke="#b4b4b4" stroke-width="0.8"/>
<line x1="1010.4" y1="232.3" x2="1010.4" y2="263.5" stroke="#9a9a9a" stroke-width="1"/>
<rect x="1009.0" y="237.3" width="2.8" height="24.7" fill="#6a6a6a" stroke="#b4b4b4" stroke-width="0.8"/>
<line x1="1015.2" y1="257.0" x2="1015.2" y2="271.5" stroke="#7f96b4" stroke-width="1"/>
<rect x="1013.1" y="262.0" width="4.2" height="7.7" fill="#1e80ee"/>
<line x1="1020.0" y1="282.0" x2="1020.0" y2="314.4" stroke="#7f96b4" stroke-width="1"/>
<rect x="1017.9" y="283.3" width="4.2" height="27.4" fill="#1e80ee"/>
<line x1="1024.9" y1="288.0" x2="1024.9" y2="302.0" stroke="#9a9a9a" stroke-width="1"/>
<rect x="1023.5" y="297.0" width="2.8" height="3.7" fill="#6a6a6a" stroke="#b4b4b4" stroke-width="0.8"/>
<line x1="0" y1="621.6" x2="1043.5" y2="621.6" stroke="#777" stroke-width="1"/>
<line x1="1043.5" y1="83" x2="1043.5" y2="621.6" stroke="#7c7c7c" stroke-width="1"/>
<path d="M1044 114.5 l4 -2 v4 z" fill="#ddd"/>
<text x="1049" y="117.2" class="ax">6000</text>
<path d="M1044 206.5 l4 -2 v4 z" fill="#ddd"/>
<text x="1049" y="209.2" class="ax">5500</text>
<path d="M1044 298.5 l4 -2 v4 z" fill="#ddd"/>
<text x="1049" y="301.2" class="ax">5000</text>
<path d="M1044 390.5 l4 -2 v4 z" fill="#ddd"/>
<text x="1049" y="393.2" class="ax">4500</text>
<path d="M1044 482.5 l4 -2 v4 z" fill="#ddd"/>
<text x="1049" y="485.2" class="ax">4000</text>
<path d="M1044 574.5 l4 -2 v4 z" fill="#ddd"/>
<text x="1049" y="577.2" class="ax">3500</text>
<line x1="1043.5" y1="160" x2="1046" y2="160" stroke="#999" stroke-width="1"/>
<line x1="1043.5" y1="252" x2="1046" y2="252" stroke="#999" stroke-width="1"/>
<line x1="1043.5" y1="344" x2="1046" y2="344" stroke="#999" stroke-width="1"/>
<line x1="1043.5" y1="436" x2="1046" y2="436" stroke="#999" stroke-width="1"/>
<line x1="1043.5" y1="528" x2="1046" y2="528" stroke="#999" stroke-width="1"/>
<line x1="48.4" y1="619.5" x2="48.4" y2="622.5" stroke="#aaa" stroke-width="1"/>
<text x="48.4" y="629.3" text-anchor="middle" class="ax">Jan 16</text>
<line x1="101.6" y1="619.5" x2="101.6" y2="622.5" stroke="#aaa" stroke-width="1"/>
<text x="101.6" y="629.3" text-anchor="middle" class="ax">Jan 31</text>
<line x1="149.9" y1="619.5" x2="149.9" y2="622.5" stroke="#aaa" stroke-width="1"/>
<text x="149.9" y="629.3" text-anchor="middle" class="ax">Feb 14</text>
<line x1="198.2" y1="619.5" x2="198.2" y2="622.5" stroke="#aaa" stroke-width="1"/>
<text x="198.2" y="629.3" text-anchor="middle" class="ax">Feb 29</text>
<line x1="251.4" y1="619.5" x2="251.4" y2="622.5" stroke="#aaa" stroke-width="1"/>
<text x="251.4" y="629.3" text-anchor="middle" class="ax">Mar 15</text>
<line x1="294.9" y1="619.5" x2="294.9" y2="622.5" stroke="#aaa" stroke-width="1"/>
<text x="294.9" y="629.3" text-anchor="middle" class="ax">Mar 28</text>
<line x1="348.1" y1="619.5" x2="348.1" y2="622.5" stroke="#aaa" stroke-width="1"/>
<text x="348.1" y="629.3" text-anchor="middle" class="ax">Apr 15</text>
<line x1="401.3" y1="619.5" x2="401.3" y2="622.5" stroke="#aaa" stroke-width="1"/>
<text x="401.3" y="629.3" text-anchor="middle" class="ax">Apr 30</text>
<line x1="454.4" y1="619.5" x2="454.4" y2="622.5" stroke="#aaa" stroke-width="1"/>
<text x="454.4" y="629.3" text-anchor="middle" class="ax">May 15</text>
<line x1="507.6" y1="619.5" x2="507.6" y2="622.5" stroke="#aaa" stroke-width="1"/>
<text x="507.6" y="629.3" text-anchor="middle" class="ax">May 31</text>
<line x1="556.0" y1="619.5" x2="556.0" y2="622.5" stroke="#aaa" stroke-width="1"/>
<text x="556.0" y="629.3" text-anchor="middle" class="ax">Jun 14</text>
<line x1="599.5" y1="619.5" x2="599.5" y2="622.5" stroke="#aaa" stroke-width="1"/>
<text x="599.5" y="629.3" text-anchor="middle" class="ax">Jun 28</text>
<line x1="647.8" y1="619.5" x2="647.8" y2="622.5" stroke="#aaa" stroke-width="1"/>
<text x="647.8" y="629.3" text-anchor="middle" class="ax">Jul 15</text>
<line x1="705.8" y1="619.5" x2="705.8" y2="622.5" stroke="#aaa" stroke-width="1"/>
<text x="705.8" y="629.3" text-anchor="middle" class="ax">Jul 31</text>
<line x1="759.0" y1="619.5" x2="759.0" y2="622.5" stroke="#aaa" stroke-width="1"/>
<text x="759.0" y="629.3" text-anchor="middle" class="ax">Aug 15</text>
<line x1="812.2" y1="619.5" x2="812.2" y2="622.5" stroke="#aaa" stroke-width="1"/>
<text x="812.2" y="629.3" text-anchor="middle" class="ax">Aug 30</text>
<line x1="860.5" y1="619.5" x2="860.5" y2="622.5" stroke="#aaa" stroke-width="1"/>
<text x="860.5" y="629.3" text-anchor="middle" class="ax">Sep 16</text>
<line x1="908.8" y1="619.5" x2="908.8" y2="622.5" stroke="#aaa" stroke-width="1"/>
<text x="908.8" y="629.3" text-anchor="middle" class="ax">Sep 30</text>
<line x1="962.0" y1="619.5" x2="962.0" y2="622.5" stroke="#aaa" stroke-width="1"/>
<text x="962.0" y="629.3" text-anchor="middle" class="ax">Oct 15</text>
<line x1="1020.0" y1="619.5" x2="1020.0" y2="622.5" stroke="#aaa" stroke-width="1"/>
<text x="1020.0" y="629.3" text-anchor="middle" class="ax">Oct 31</text>
<line x1="75.0" y1="620.4" x2="75.0" y2="622.4" stroke="#999" stroke-width="1"/>
<line x1="125.7" y1="620.4" x2="125.7" y2="622.4" stroke="#999" stroke-width="1"/>
<line x1="174.1" y1="620.4" x2="174.1" y2="622.4" stroke="#999" stroke-width="1"/>
<line x1="224.8" y1="620.4" x2="224.8" y2="622.4" stroke="#999" stroke-width="1"/>
<line x1="273.2" y1="620.4" x2="273.2" y2="622.4" stroke="#999" stroke-width="1"/>
<line x1="321.5" y1="620.4" x2="321.5" y2="622.4" stroke="#999" stroke-width="1"/>
<line x1="374.7" y1="620.4" x2="374.7" y2="622.4" stroke="#999" stroke-width="1"/>
<line x1="427.9" y1="620.4" x2="427.9" y2="622.4" stroke="#999" stroke-width="1"/>
<line x1="481.0" y1="620.4" x2="481.0" y2="622.4" stroke="#999" stroke-width="1"/>
<line x1="531.8" y1="620.4" x2="531.8" y2="622.4" stroke="#999" stroke-width="1"/>
<line x1="577.7" y1="620.4" x2="577.7" y2="622.4" stroke="#999" stroke-width="1"/>
<line x1="623.6" y1="620.4" x2="623.6" y2="622.4" stroke="#999" stroke-width="1"/>
<line x1="676.8" y1="620.4" x2="676.8" y2="622.4" stroke="#999" stroke-width="1"/>
<line x1="732.4" y1="620.4" x2="732.4" y2="622.4" stroke="#999" stroke-width="1"/>
<line x1="785.6" y1="620.4" x2="785.6" y2="622.4" stroke="#999" stroke-width="1"/>
<line x1="836.3" y1="620.4" x2="836.3" y2="622.4" stroke="#999" stroke-width="1"/>
<line x1="884.7" y1="620.4" x2="884.7" y2="622.4" stroke="#999" stroke-width="1"/>
<line x1="935.4" y1="620.4" x2="935.4" y2="622.4" stroke="#999" stroke-width="1"/>
<line x1="991.0" y1="620.4" x2="991.0" y2="622.4" stroke="#999" stroke-width="1"/>
<text x="520.5" y="637" text-anchor="middle" class="ax" style="font-size:6px">2024</text>
<path d="M1045 304.0 l3 -2.5 h31 v5.0 h-31 z" fill="#d8b21c"/><text x="1049.5" y="306.3" class="tg" fill="#5a4a00">4978.949</text>
<path d="M1045 264.0 l3 -3.8 h31 v7.6 h-31 z" fill="#35c25a"/><text x="1049.5" y="266.3" class="tg" fill="#e0ffe6">5188.375</text>
<path d="M1045 284.0 l3 -3.8 h31 v7.6 h-31 z" fill="#e21fae"/><text x="1049.5" y="286.3" class="tg" fill="#ffe6f8">5077.871</text>
<path d="M1045 298.3 l3 -3.8 h31 v7.6 h-31 z" fill="#f2f2f2"/><text x="1049.5" y="300.6" class="tg" fill="#111">5001.425</text>
</svg>
<!-- legend -->
<div class="lg">
<span style="position:absolute;left:2px;top:6px;width:3px;height:25px;border-left:0.6px solid #666;"></span>
<i style="top:3px;background:#f4f4f4"></i>
<i style="top:35.8px;background:#e018a0"></i>
<i style="top:43.6px;background:#27b845"></i>
<i style="top:51.4px;background:#e8d020"></i>
<span style="position:absolute;left:9.5px;top:12px;width:0.7px;height:5px;background:#777"></span><span style="position:absolute;left:8px;top:12px;width:3.5px;height:0.7px;background:#777"></span>
<span style="position:absolute;left:8px;top:22.5px;width:3.5px;height:0.7px;background:#666"></span>
<span style="position:absolute;left:9.5px;top:28px;width:0.7px;height:5px;background:#777"></span><span style="position:absolute;left:8px;top:32.5px;width:3.5px;height:0.7px;background:#777"></span>
<div style="top:2px">Last Price<b>5001.425</b></div>
<div style="top:10px">High on 07/11/24<b>5931.833</b></div>
<div style="top:18.6px">Average<b>4922.303</b></div>
<div style="top:26.6px">Low on 01/04/24<b>3875.178</b></div>
<div style="top:35px">SMAVG (50)  on Close<b>5077.871</b></div>
<div style="top:42.8px">SMAVG (100)  on Close<b>5188.375</b></div>
<div style="top:50.6px">SMAVG (200)  on Close<b>4978.949</b></div>
</div>
<!-- footer -->
<div class="ft" style="top:637.6px">Australia 61 2 9777 8600 Brazil 5511 2395 9000 Europe 44 20 7330 7500 Germany 49 69 9204 1210 Hong Kong 852 2977 6000</div>
<div class="ft" style="top:650.9px">Japan 81 3 4565 8900      Singapore 65 6212 1000      U.S. 1 212 318 2000       Copyright 2024 Bloomberg Finance L.P.</div>
<div class="ft" style="top:664px">                                                                            SN 3379190 EST  GMT-5:00 ba819-174 03-Nov-2024 09:50:19</div>
</body></html>
